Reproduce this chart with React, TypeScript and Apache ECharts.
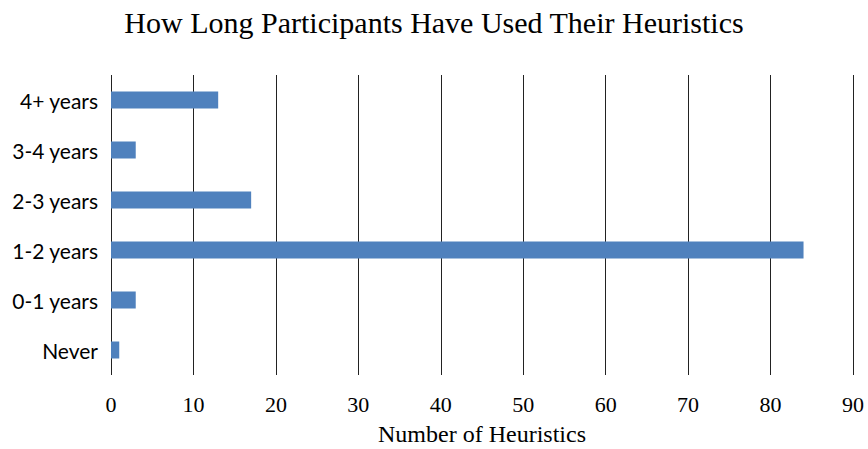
import React, { useEffect, useRef } from "react";
import * as echarts from "echarts";

const categories = ["Never", "0-1 years", "1-2 years", "2-3 years", "3-4 years", "4+ years"];
const values = [1, 3, 84, 17, 3, 13];
const xTicks = [0, 10, 20, 30, 40, 50, 60, 70, 80, 90];

export default function App() {
  const ref = useRef<HTMLDivElement>(null);
  useEffect(() => {
    if (!ref.current) return;
    const chart = echarts.init(ref.current, null, { renderer: "svg" });
    chart.setOption({
      animation: false,
      backgroundColor: "#ffffff",
      title: {
        text: "How Long Participants Have Used Their Heuristics",
        left: "center",
        top: 2,
        textStyle: {
          fontFamily: "Liberation Serif",
          fontSize: 30,
          fontWeight: "normal",
          color: "#000",
        },
      },
      grid: { left: 111, right: 15, top: 75, bottom: 74, outerBoundsMode: "none", containLabel: false },
      xAxis: {
        type: "value",
        min: xTicks[0],
        max: xTicks[xTicks.length - 1],
        interval: 10,
        name: "Number of Heuristics",
        nameLocation: "middle",
        nameGap: 47,
        nameTextStyle: { fontFamily: "Liberation Serif", fontSize: 24, color: "#000" },
        axisLine: { show: false },
        axisTick: { show: false },
        axisLabel: { fontFamily: "Liberation Serif", fontSize: 22, color: "#000", margin: 18 },
        splitLine: { show: true, lineStyle: { color: "#222", width: 1 } },
      },
      yAxis: {
        type: "category",
        data: categories,
        axisLine: { show: false },
        axisTick: { show: false },
        axisLabel: { fontFamily: "Lato", fontSize: 21, color: "#000", margin: 13 },
        splitLine: { show: false },
      },
      series: [
        {
          type: "bar",
          data: values,
          barWidth: 17,
          itemStyle: { color: "#4f81bd" },
        },
      ],
    });
    return () => chart.dispose();
  }, []);
  return (
    <div
      ref={ref}
      style={{ position: "fixed", left: 0, top: 0, width: 868, height: 449 }}
    />
  );
}
